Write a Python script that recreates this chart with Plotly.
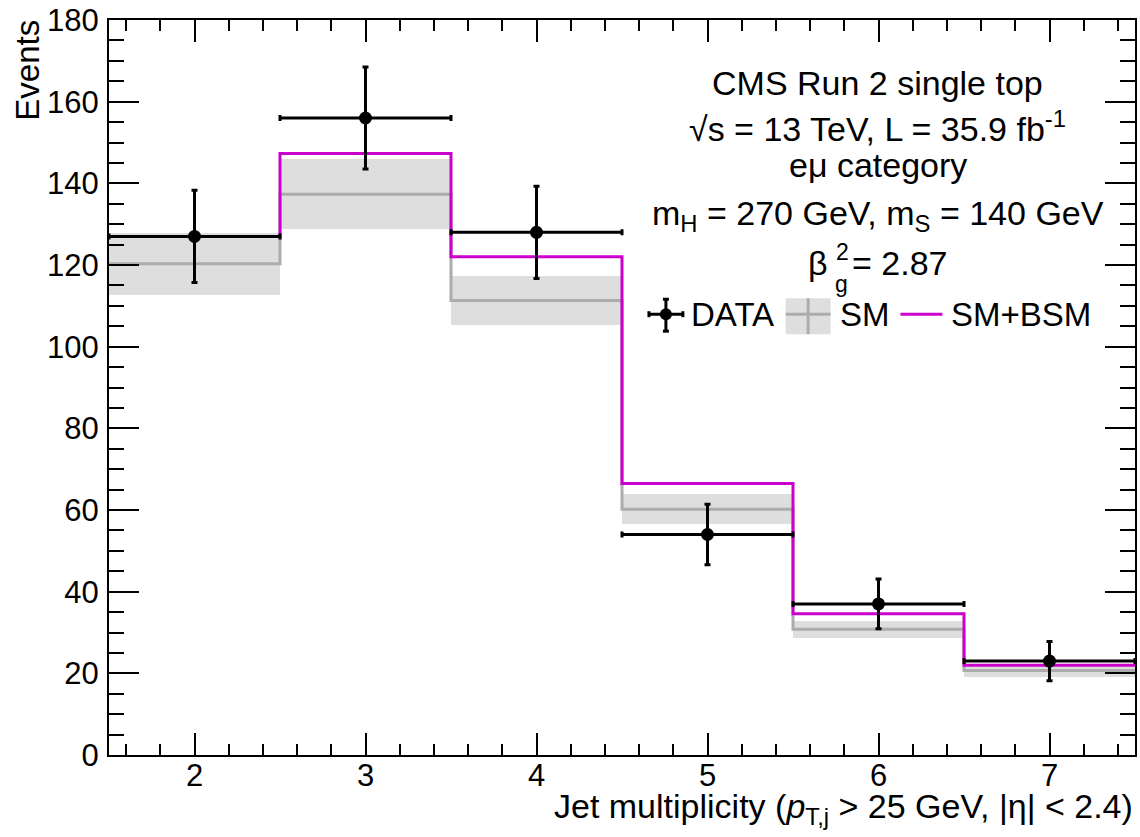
import plotly.graph_objects as go

# Jet multiplicity bins (bin centres, unit width)
jet_bins = [2, 3, 4, 5, 6, 7]

# Observed events and their uncertainties
data_counts = [127, 156, 128, 54, 37, 23]
data_errors = [11.3, 12.5, 11.3, 7.4, 6.1, 4.8]

# Standard-model expectation and its uncertainty band
sm_counts = [120.3, 137.3, 111.3, 60.2, 30.8, 20.7]
sm_errors = [7.6, 8.6, 6.0, 3.7, 2.1, 1.5]

# Standard model plus BSM signal
bsm_counts = [127.0, 147.3, 122.0, 66.5, 34.6, 22.0]

y_ticks = [0, 20, 40, 60, 80, 100, 120, 140, 160, 180]

FONT = "Liberation Sans, Arial, Helvetica, sans-serif"
TICK_FS = 31
FS = 34
MAGENTA = "#cc00cc"
SM_LINE = "#acacac"
SM_BAND = "#dedede"

half = 0.5
edges = [c - half for c in jet_bins] + [jet_bins[-1] + half]


def step_y(values):
    return list(values) + [values[-1]]


fig = go.Figure()

# SM uncertainty band as unit-width bars
fig.add_trace(go.Bar(
    x=jet_bins,
    y=[2 * e for e in sm_errors],
    base=[v - e for v, e in zip(sm_counts, sm_errors)],
    width=1.0,
    marker=dict(color=SM_BAND, line=dict(width=0)),
    showlegend=False,
    hoverinfo="skip",
))

# SM histogram
fig.add_trace(go.Scatter(
    x=edges, y=step_y(sm_counts), mode="lines",
    line=dict(color=SM_LINE, width=3, shape="hv"),
    showlegend=False,
))

# SM+BSM histogram
fig.add_trace(go.Scatter(
    x=edges, y=step_y(bsm_counts), mode="lines",
    line=dict(color=MAGENTA, width=3, shape="hv"),
    showlegend=False,
))

# Data points
fig.add_trace(go.Scatter(
    x=jet_bins, y=data_counts, mode="markers",
    marker=dict(color="black", size=13),
    error_y=dict(type="data", array=data_errors, color="black", thickness=3, width=3),
    error_x=dict(type="data", array=[half] * len(jet_bins), color="black", thickness=3, width=3),
    showlegend=False,
))

axis_common = dict(
    showline=True, linecolor="black", linewidth=2,
    mirror="allticks", ticks="inside", tickcolor="black", tickwidth=2,
    showgrid=False, zeroline=False,
    tickfont=dict(family=FONT, size=TICK_FS, color="black"),
)

fig.update_xaxes(
    range=[edges[0], edges[-1]],
    tickmode="array", tickvals=jet_bins, ticktext=[str(b) for b in jet_bins],
    ticklen=22, ticklabelstandoff=-8,
    minor=dict(tick0=0, dtick=0.2, ticklen=11, tickwidth=2, tickcolor="black", ticks="inside"),
    **axis_common,
)
fig.update_yaxes(
    range=[0, 180],
    tickmode="array", tickvals=y_ticks,
    ticklen=30, ticklabelstandoff=2,
    minor=dict(tick0=0, dtick=5, ticklen=15, tickwidth=2, tickcolor="black", ticks="inside"),
    **axis_common,
)

L, R, T, B = 109, 3, 18, 82
W, H = 1140, 837
PW, PH = W - L - R, H - T - B


def px(x):
    return (x - L) / PW


def py(y):
    return (H - B - y) / PH


annotations = []


def text(x, y, s, xanchor="center", yanchor="middle", size=FS, angle=0):
    annotations.append(dict(
        x=px(x), y=py(y), xref="paper", yref="paper", text=s, showarrow=False,
        xanchor=xanchor, yanchor=yanchor, textangle=angle,
        font=dict(family=FONT, size=size, color="black"),
    ))


# Axis titles
text(27, 16, "Events", xanchor="center", yanchor="top", angle=-90, size=33)
text(W - R, 785,
     "Jet multiplicity (<i>p</i><sub>T,j</sub> > 25 GeV, |η| < 2.4)",
     xanchor="right", yanchor="top")

# Info block
text(879, 81, "CMS Run 2 single top")
text(879, 125, "√s = 13 TeV, L = 35.9 fb<sup>-1</sup>")
text(879, 163, "eμ category")
text(879, 214, "m<sub>H</sub> = 270 GeV, m<sub>S</sub> = 140 GeV")
# beta with stacked sub/superscript
text(831, 262, "β", xanchor="right")
text(835, 251, "2", xanchor="left", size=23)
text(834, 283, "g", xanchor="left", size=23)
text(851, 262, "= 2.87", xanchor="left")

# Legend
shapes = []
leg_y = 313
# DATA symbol
shapes.append(dict(type="line", xref="paper", yref="paper", x0=px(650), x1=px(684), y0=py(leg_y), y1=py(leg_y),
                   line=dict(color="black", width=3)))
shapes.append(dict(type="line", xref="paper", yref="paper", x0=px(667), x1=px(667), y0=py(298), y1=py(330),
                   line=dict(color="black", width=3)))
for yy in (298, 330):
    shapes.append(dict(type="line", xref="paper", yref="paper", x0=px(664), x1=px(670), y0=py(yy), y1=py(yy),
                       line=dict(color="black", width=3)))
for xx in (650, 684):
    shapes.append(dict(type="line", xref="paper", yref="paper", x0=px(xx), x1=px(xx), y0=py(leg_y - 3), y1=py(leg_y + 3),
                       line=dict(color="black", width=3)))
shapes.append(dict(type="circle", xref="paper", yref="paper", x0=px(661), x1=px(673), y0=py(307), y1=py(319),
                   fillcolor="black", line=dict(color="black", width=0)))
text(690, leg_y, "DATA", xanchor="left", size=33)
# SM symbol
shapes.append(dict(type="rect", xref="paper", yref="paper", x0=px(787), x1=px(832), y0=py(297), y1=py(333),
                   fillcolor=SM_BAND, line=dict(width=0)))
shapes.append(dict(type="line", xref="paper", yref="paper", x0=px(787), x1=px(832), y0=py(leg_y), y1=py(leg_y),
                   line=dict(color=SM_LINE, width=3)))
shapes.append(dict(type="line", xref="paper", yref="paper", x0=px(809.5), x1=px(809.5), y0=py(297), y1=py(333),
                   line=dict(color=SM_LINE, width=3)))
text(839, leg_y, "SM", xanchor="left", size=33)
# SM+BSM symbol
shapes.append(dict(type="line", xref="paper", yref="paper", x0=px(902), x1=px(944), y0=py(leg_y), y1=py(leg_y),
                   line=dict(color=MAGENTA, width=3)))
text(951, leg_y, "SM+BSM", xanchor="left", size=33)

fig.update_layout(
    width=W, height=H,
    margin=dict(l=L, r=R, t=T, b=B),
    paper_bgcolor="white", plot_bgcolor="white",
    showlegend=False, bargap=0,
    annotations=annotations, shapes=shapes,
    font=dict(family=FONT, size=FS, color="black"),
)

fig.write_html("out.html")
